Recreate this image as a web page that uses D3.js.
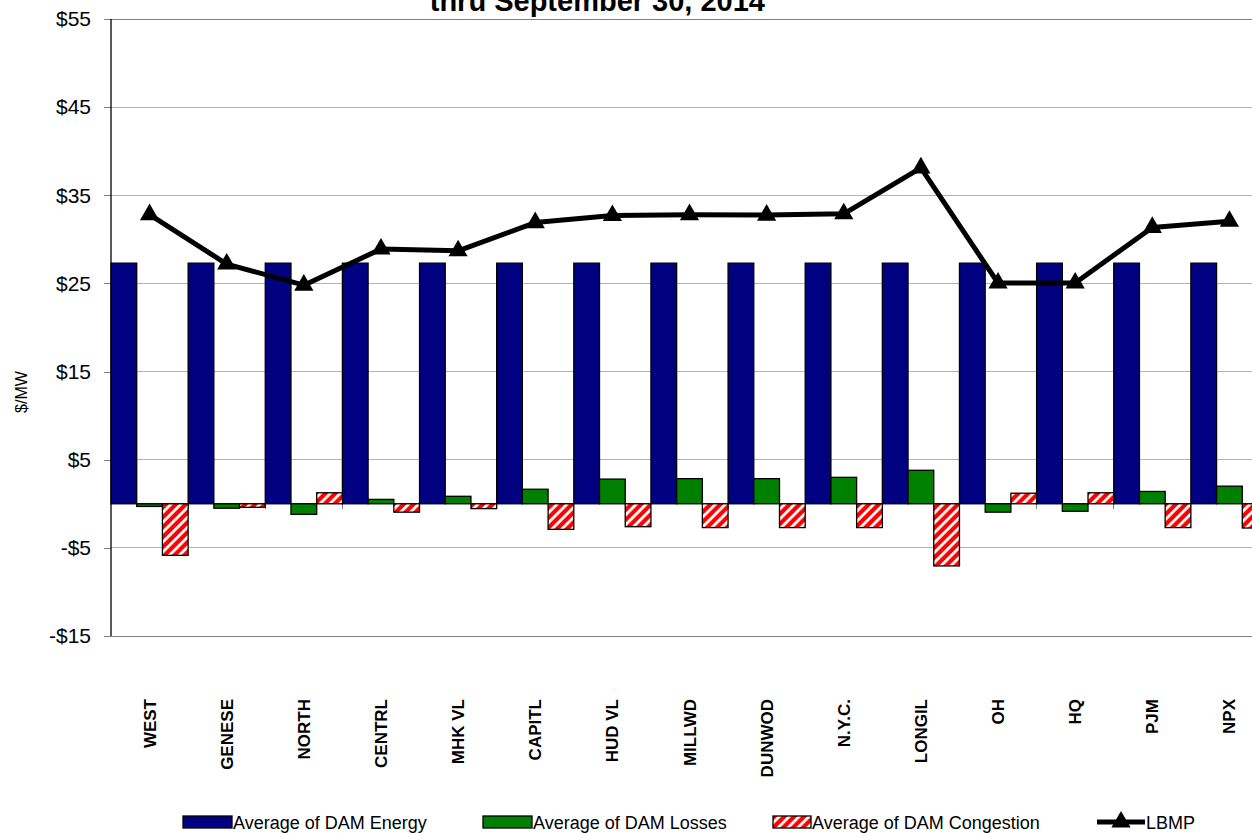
<!DOCTYPE html>
<html><head><meta charset="utf-8">
<script src="https://cdn.jsdelivr.net/npm/d3@7"></script>
<style>
html,body{margin:0;padding:0;background:#fff;overflow:hidden}
text{font-family:"Liberation Sans",Arial,sans-serif}
</style></head>
<body>
<svg id="chart" width="1252" height="833"></svg>
<script>
const categories = ["WEST","GENESE","NORTH","CENTRL","MHK VL","CAPITL","HUD VL","MILLWD","DUNWOD","N.Y.C.","LONGIL","OH","HQ","PJM","NPX"];
const damEnergy = [27.3,27.3,27.3,27.3,27.3,27.3,27.3,27.3,27.3,27.3,27.3,27.3,27.3,27.3,27.3];
const damLosses = [-0.3,-0.5,-1.2,0.5,0.85,1.65,2.8,2.85,2.85,3.0,3.8,-0.95,-0.85,1.4,2.0];
const damCongestion = [-5.85,-0.4,1.25,-0.95,-0.55,-2.9,-2.6,-2.7,-2.7,-2.7,-7.05,1.2,1.25,-2.7,-2.75];
const lbmp = [32.8,27.2,24.8,28.9,28.7,31.9,32.7,32.8,32.75,32.9,38.1,25.05,25.05,31.35,32.05];
const yTicks = [-15,-5,5,15,25,35,45,55];
const seriesNames = ["Average of DAM Energy","Average of DAM Losses","Average of DAM Congestion"];
const titleText = "thru September 30, 2014";
const yLabel = "$/MW";

const svg = d3.select("#chart");
const defs = svg.append("defs");
const pat = defs.append("pattern").attr("id","hatch").attr("patternUnits","userSpaceOnUse")
  .attr("width",7).attr("height",7).attr("patternTransform","rotate(45)");
pat.append("rect").attr("width",7).attr("height",7).attr("fill","#ff0000");
pat.append("rect").attr("x",0).attr("width",2.8).attr("height",7).attr("fill","#ffffff");

const pLeft = 111, pRight = 1268, pTop = 19, pBottom = 636;
const y = d3.scaleLinear().domain([-15,55]).range([pBottom, pTop]);
const x = d3.scaleBand().domain(categories).range([pLeft, pRight]).padding(0);
const xs = d3.scaleBand().domain([0,1,2]).range([0, x.bandwidth()]).padding(0);
const fills = ["#000080","#008000","url(#hatch)"];
const data = [damEnergy, damLosses, damCongestion];

// gridlines
svg.append("g").selectAll("line").data(yTicks).join("line")
  .attr("x1",pLeft).attr("x2",pRight).attr("y1",d=>y(d)).attr("y2",d=>y(d))
  .attr("stroke",d=> (d===55||d===-15) ? "#808080" : "#b4b4b4").attr("stroke-width",1)
  .attr("shape-rendering","crispEdges");

// y axis
const yAxis = d3.axisLeft(y).tickValues(yTicks).tickSize(7).tickPadding(13)
  .tickFormat(d => (d<0?"-$":"$") + Math.abs(d));
const gy = svg.append("g").attr("transform",`translate(${pLeft},0)`).call(yAxis);
gy.select(".domain").remove();
gy.selectAll(".tick line").attr("stroke","#808080").attr("shape-rendering","crispEdges");
gy.selectAll(".tick text").attr("font-size","21px").attr("fill","#000")
  .attr("font-family","'Liberation Sans',Arial,sans-serif");

// zero axis line with ticks at category boundaries
svg.append("line").attr("x1",pLeft).attr("x2",pRight).attr("y1",y(0)).attr("y2",y(0))
  .attr("stroke","#808080").attr("shape-rendering","crispEdges");
svg.append("g").selectAll("line").data(categories.slice(1)).join("line")
  .attr("x1",d=>x(d)).attr("x2",d=>x(d)).attr("y1",y(0)).attr("y2",y(0)+5)
  .attr("stroke","#808080").attr("shape-rendering","crispEdges");

// bars
data.forEach((arr, si) => {
  svg.append("g").selectAll("rect").data(arr).join("rect")
    .attr("x",(d,i)=>x(categories[i]) + xs(si))
    .attr("width", xs.bandwidth())
    .attr("y", d => y(Math.max(0,d)))
    .attr("height", d => Math.abs(y(d)-y(0)))
    .attr("fill", fills[si]).attr("stroke","#000").attr("stroke-width",1.3);
});

// left axis line
svg.append("line").attr("x1",pLeft).attr("x2",pLeft).attr("y1",pTop).attr("y2",pBottom)
  .attr("stroke","#000").attr("stroke-width",1.3);

// LBMP line
const line = d3.line().x((d,i)=>x(categories[i]) + x.bandwidth()/2).y(d=>y(d));
svg.append("path").datum(lbmp).attr("d",line).attr("fill","none")
  .attr("stroke","#000").attr("stroke-width",5).attr("stroke-linejoin","round");
const tri = d3.symbol().type(d3.symbolTriangle).size(160);
svg.append("g").selectAll("path").data(lbmp).join("path")
  .attr("d",tri).attr("fill","#000")
  .attr("transform",(d,i)=>`translate(${x(categories[i]) + x.bandwidth()/2},${y(d)})`);

// category labels
svg.append("g").selectAll("text").data(categories).join("text")
  .attr("transform",d=>`translate(${x(d)+x.bandwidth()/2+6},699) rotate(-90)`)
  .attr("text-anchor","end").attr("font-size","17px").attr("font-weight","bold")
  .text(d=>d);

// y label
svg.append("text").attr("transform","translate(27,392) rotate(-90)")
  .attr("text-anchor","middle").attr("font-size","16px").text(yLabel);

// title
svg.append("text").attr("x",765).attr("y",11).attr("text-anchor","end")
  .attr("font-size","29px").attr("font-weight","bold").text(titleText);

// legend
const legY = 822;
const legX = [183, 483, 773];
seriesNames.forEach((n,i)=>{
  svg.append("rect").attr("x",legX[i]).attr("y",legY-6).attr("width",i===2?38:49).attr("height",12)
    .attr("fill",fills[i]).attr("stroke","#000").attr("stroke-width",1.3);
  svg.append("text").attr("x",legX[i]+(i===2?39:50)).attr("y",legY+7).attr("font-size","18px").text(n);
});
svg.append("line").attr("x1",1097).attr("x2",1145).attr("y1",legY).attr("y2",legY)
  .attr("stroke","#000").attr("stroke-width",5);
svg.append("path").attr("d",tri).attr("fill","#000").attr("transform",`translate(1121,${legY})`);
svg.append("text").attr("x",1146).attr("y",legY+7).attr("font-size","18px").text("LBMP");
</script>
</body></html>
